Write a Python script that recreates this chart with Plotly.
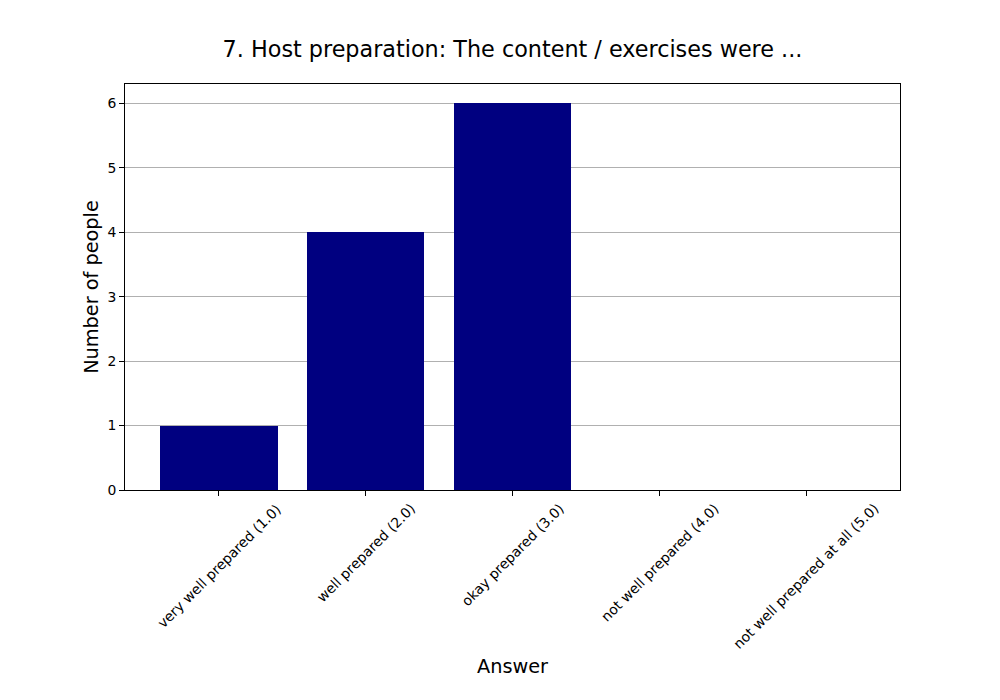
import plotly.graph_objects as go

# survey answers for question 7
answers = [
    "very well prepared (1.0)",
    "well prepared (2.0)",
    "okay prepared (3.0)",
    "not well prepared (4.0)",
    "not well prepared at all (5.0)",
]
counts = [1, 4, 6, 0, 0]
positions = [0, 1, 2, 3, 4]

FONT = "DejaVu Sans"

fig = go.Figure()

fig.add_trace(
    go.Bar(
        x=positions,
        y=counts,
        width=0.8,
        marker=dict(color="#000080", line=dict(width=0)),
    ))

# rotated labels centred under each tick (matplotlib style)
for pos, label in zip(positions, answers):
    fig.add_annotation(
        x=pos, y=0, xref="x", yref="paper",
        text=label, showarrow=False,
        textangle=-45, xanchor="center", yanchor="top",
        yshift=-8,
        font=dict(family=FONT, size=13.9, color="black"),
    )

fig.add_annotation(
    x=0.5, y=0, xref="paper", yref="paper",
    text="Answer", showarrow=False,
    xanchor="center", yanchor="top", yshift=-163,
    font=dict(family=FONT, size=19.3, color="black"),
)

# page is shifted ~8px by the body margin, so margins are trimmed by 8
fig.update_layout(
    width=1000,
    height=700,
    margin=dict(l=117, r=108, t=76, b=218),
    paper_bgcolor="white",
    plot_bgcolor="white",
    showlegend=False,
    bargap=0,
    title=dict(
        text="7. Host preparation: The content / exercises were ...",
        xref="paper", x=0.5, xanchor="center",
        y=1 - 41 / 700, yanchor="middle",
        font=dict(family=FONT, size=22.3, color="black"),
    ),
    font=dict(family=FONT, size=13.9, color="black"),
    xaxis=dict(
        range=[-0.64, 4.64],
        tickvals=positions,
        showticklabels=False,
        ticks="outside", ticklen=5, tickcolor="black",
        showgrid=False, zeroline=False,
        showline=True, linecolor="black", linewidth=1, mirror=True,
    ),
    yaxis=dict(
        range=[0, 6.3],
        tickvals=[0, 1, 2, 3, 4, 5, 6],
        ticks="outside", ticklen=5, tickcolor="black",
        showgrid=True, gridcolor="#b0b0b0", gridwidth=1,
        zeroline=False,
        showline=True, linecolor="black", linewidth=1, mirror=True,
        title=dict(text="Number of people", standoff=3,
                   font=dict(family=FONT, size=19.3, color="black")),
    ),
)

fig.write_html("out.html")
